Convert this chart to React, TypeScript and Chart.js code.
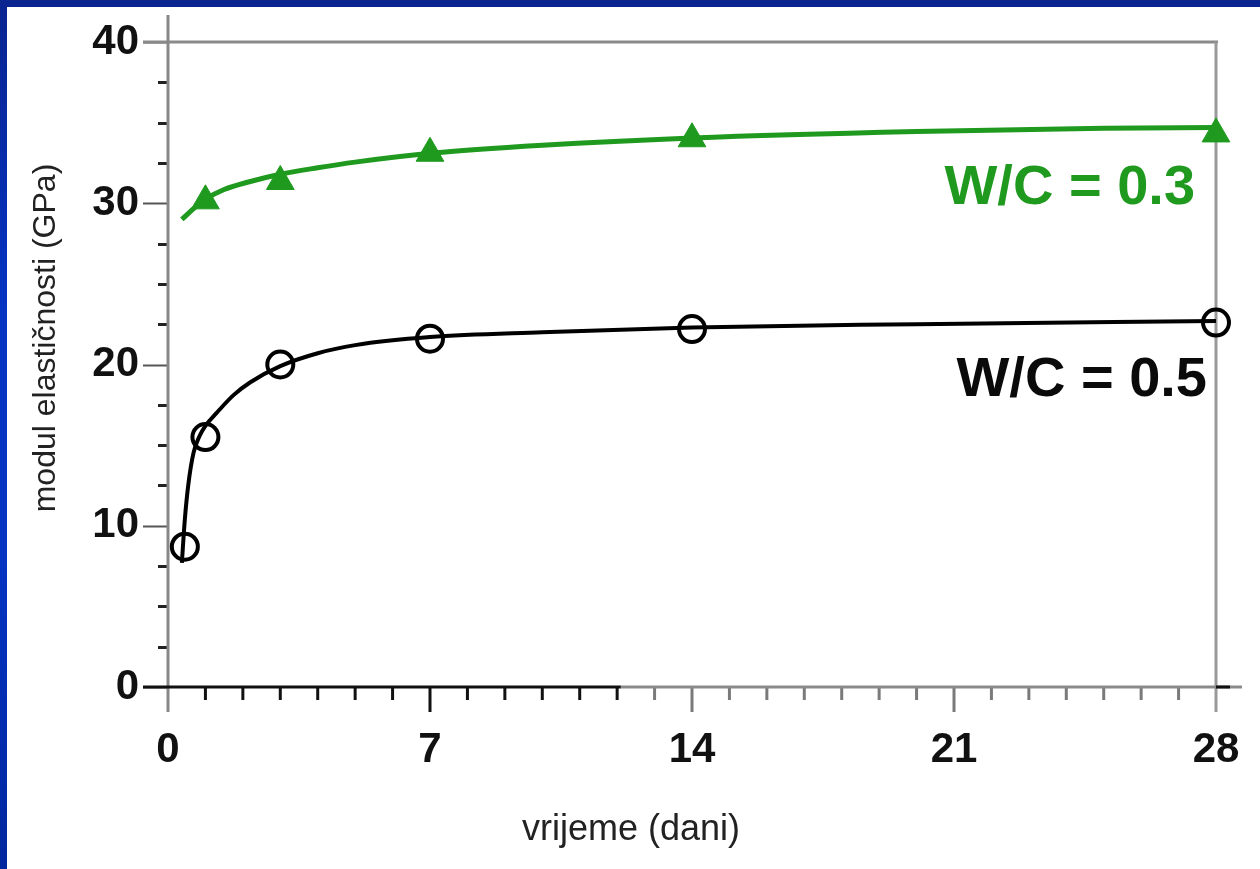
import React, { useEffect, useRef } from "react";
import { Chart, registerables } from "chart.js";

Chart.register(...registerables);

// ---- data ----
const xTickValues = [0, 7, 14, 21, 28];
const yTickValues = [0, 10, 20, 30, 40];

const seriesNames = ["W/C = 0.5", "W/C = 0.3"];

// measured points, W/C = 0.5 (open circles)
const days05 = [0.45, 1, 3, 7, 14, 28];
const modulus05 = [8.7, 15.5, 20.0, 21.6, 22.2, 22.6];

// measured points, W/C = 0.3 (filled triangles)
const days03 = [1, 3, 7, 14, 28];
const modulus03 = [30.15, 31.35, 33.1, 34.0, 34.3];

// fitted curves
const fitDays05 = [0.37, 0.45, 0.54, 0.68, 0.85, 1.0, 1.3, 1.75, 2.2, 3.0, 4.0, 5.0, 7, 10, 14, 20, 28];
const fitModulus05 = [7.7, 10.4, 12.5, 14.5, 15.6, 16.2, 17.0, 18.1, 18.9, 19.9, 20.7, 21.2, 21.7, 22.0, 22.3, 22.5, 22.7];

const fitDays03 = [0.37, 0.7, 1.0, 1.5, 2.2, 3.0, 4.0, 5.0, 7, 10, 14, 20, 25, 28];
const fitModulus03 = [29.0, 29.7, 30.25, 30.85, 31.35, 31.8, 32.2, 32.55, 33.1, 33.6, 34.05, 34.45, 34.65, 34.7];

const xTitle = "vrijeme (dani)";
const yTitle = "modul elastičnosti (GPa)";

const FONT = '"Liberation Sans", Arial, Helvetica, sans-serif';
const GREEN = "#1f9a1f";

const toXY = (xs: number[], ys: number[]) => xs.map((x, i) => ({ x, y: ys[i] }));

const decorPlugin = {
  id: "decor",
  beforeDatasetsDraw(chart: any) {
    const { ctx, chartArea, scales } = chart;
    const xs = scales.x;
    const ys = scales.y;
    const L = chartArea.left;
    const R = chartArea.right;
    const T = chartArea.top;
    const B = chartArea.bottom;
    const split = xs.getPixelForValue(12.1);
    ctx.save();
    ctx.lineCap = "butt";
    for (let v = 0; v <= 40.001; v += 2.5) {
      const p = Math.round(ys.getPixelForValue(v)) + 0.5;
      const major = Math.abs(v % 10) < 1e-6;
      ctx.strokeStyle = major ? "#555" : "#222";
      ctx.lineWidth = major ? 2 : 3;
      ctx.beginPath();
      ctx.moveTo(L - (major ? 25 : 10), p);
      ctx.lineTo(L, p);
      ctx.stroke();
    }
    for (let d = 1; d <= 27; d += 1) {
      const p = xs.getPixelForValue(d);
      const major = d % 7 === 0;
      ctx.strokeStyle = p < split ? "#111" : "#7a7a7a";
      ctx.lineWidth = 3;
      ctx.beginPath();
      ctx.moveTo(p, B);
      ctx.lineTo(p, B + (major ? 25 : 13));
      ctx.stroke();
    }
    ctx.lineWidth = 3;
    ctx.strokeStyle = "#8a8a8a";
    ctx.beginPath();
    ctx.moveTo(L - 25, T);
    ctx.lineTo(R + 2, T);
    ctx.stroke();
    ctx.strokeStyle = "#999";
    ctx.beginPath();
    ctx.moveTo(R, T);
    ctx.lineTo(R, B + 25);
    ctx.stroke();
    ctx.strokeStyle = "#888";
    ctx.beginPath();
    ctx.moveTo(L, 15);
    ctx.lineTo(L, B + 25);
    ctx.stroke();
    ctx.strokeStyle = "#111";
    ctx.beginPath();
    ctx.moveTo(L - 25, B);
    ctx.lineTo(split, B);
    ctx.stroke();
    ctx.strokeStyle = "#8a8a8a";
    ctx.beginPath();
    ctx.moveTo(split, B);
    ctx.lineTo(R + 26, B);
    ctx.stroke();
    ctx.strokeStyle = "#111";
    ctx.beginPath();
    ctx.moveTo(R, B);
    ctx.lineTo(R + 14, B);
    ctx.stroke();
    ctx.restore();
  },
  afterDatasetsDraw(chart: any) {
    const { ctx, scales } = chart;
    const xs = scales.x;
    const ys = scales.y;
    ctx.save();
    ctx.font = `bold 56px ${FONT}`;
    ctx.textAlign = "right";
    ctx.textBaseline = "middle";
    ctx.fillStyle = GREEN;
    ctx.fillText(seriesNames[1], xs.getPixelForValue(27.44), ys.getPixelForValue(30.9));
    ctx.fillStyle = "#0a0a0a";
    ctx.fillText(seriesNames[0], xs.getPixelForValue(27.76), ys.getPixelForValue(19.0));
    ctx.fillStyle = "#222";
    ctx.textAlign = "center";
    ctx.font = `36px ${FONT}`;
    ctx.fillText(xTitle, 631, 830);
    ctx.font = `32px ${FONT}`;
    ctx.translate(46, 338);
    ctx.rotate(-Math.PI / 2);
    ctx.fillText(yTitle, 0, 0);
    ctx.restore();
  },
};

export default function App() {
  const canvasRef = useRef<HTMLCanvasElement | null>(null);

  useEffect(() => {
    const canvas = canvasRef.current;
    if (!canvas) return;
    const chart = new Chart(canvas, {
      type: "line",
      data: {
        datasets: [
          {
            label: seriesNames[0] + " fit",
            data: toXY(fitDays05, fitModulus05),
            borderColor: "#000",
            borderWidth: 4,
            pointRadius: 0,
            cubicInterpolationMode: "monotone",
            fill: false,
          },
          {
            label: seriesNames[0],
            data: toXY(days05, modulus05),
            showLine: false,
            pointStyle: "circle",
            pointRadius: 13,
            pointBorderWidth: 4,
            pointBorderColor: "#000",
            pointBackgroundColor: "rgba(255,255,255,0)",
            clip: false,
          },
          {
            label: seriesNames[1] + " fit",
            data: toXY(fitDays03, fitModulus03),
            borderColor: GREEN,
            borderWidth: 5,
            pointRadius: 0,
            cubicInterpolationMode: "monotone",
            fill: false,
          },
          {
            label: seriesNames[1],
            data: toXY(days03, modulus03),
            showLine: false,
            pointStyle: "triangle",
            pointRadius: 16,
            pointBorderWidth: 1,
            pointBorderColor: GREEN,
            pointBackgroundColor: GREEN,
            clip: false,
          },
        ] as any,
      },
      options: {
        animation: false,
        responsive: false,
        devicePixelRatio: 1,
        layout: { padding: { top: 42, right: 44, left: 0, bottom: 0 } },
        plugins: { legend: { display: false }, tooltip: { enabled: false } },
        scales: {
          x: {
            type: "linear",
            min: 0,
            max: 28,
            afterBuildTicks: (s: any) => {
              s.ticks = xTickValues.map((v) => ({ value: v }));
            },
            afterFit: (s: any) => {
              s.height = 182;
              s.paddingLeft = 0;
              s.paddingRight = 0;
              s.paddingTop = 0;
              s.paddingBottom = 0;
            },
            ticks: {
              font: { family: FONT, size: 42, weight: "bold" },
              color: "#111",
              padding: 38,
              maxRotation: 0,
              autoSkip: false,
            },
            grid: { display: false, drawTicks: false },
            border: { display: false },
          },
          y: {
            type: "linear",
            min: 0,
            max: 40,
            afterBuildTicks: (s: any) => {
              s.ticks = yTickValues.map((v) => ({ value: v }));
            },
            afterFit: (s: any) => {
              s.width = 168;
              s.paddingLeft = 0;
              s.paddingRight = 0;
              s.paddingTop = 0;
              s.paddingBottom = 0;
            },
            ticks: {
              font: { family: FONT, size: 42, weight: "bold" },
              color: "#111",
              padding: 29,
              autoSkip: false,
            },
            grid: { display: false, drawTicks: false },
            border: { display: false },
          },
        },
      } as any,
      plugins: [decorPlugin],
    });
    return () => chart.destroy();
  }, []);

  return (
    <div
      style={{
        position: "fixed",
        left: 0,
        top: 0,
        width: 1260,
        height: 869,
        background: "linear-gradient(180deg, #0a2490 0%, #0533c2 35%, #0533c2 65%, #00279e 100%)",
        overflow: "hidden",
      }}
    >
      <div style={{ position: "absolute", left: 7, top: 7, right: 0, bottom: 0, background: "#fff" }} />
      <canvas
        ref={canvasRef}
        width={1260}
        height={869}
        style={{ position: "absolute", left: 0, top: 0, width: 1260, height: 869 }}
      />
    </div>
  );
}
